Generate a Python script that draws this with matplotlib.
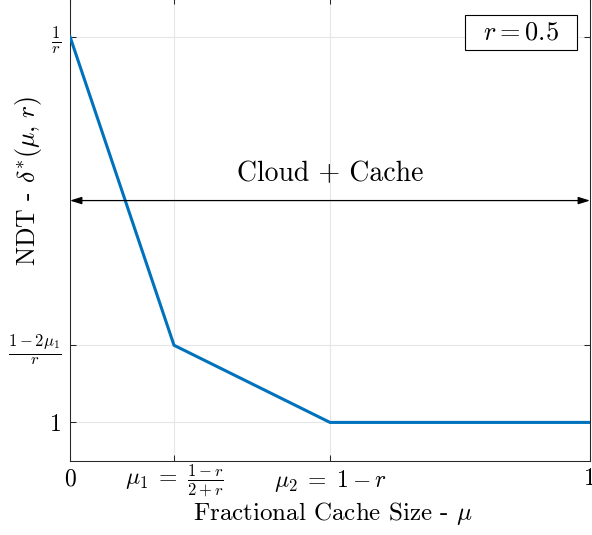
import matplotlib
matplotlib.use("Agg")
import matplotlib.pyplot as plt
from matplotlib.patches import Rectangle
from matplotlib.transforms import ScaledTranslation

plt.rcParams['font.family'] = 'serif'
plt.rcParams['font.serif'] = ['cmr10']
plt.rcParams['mathtext.fontset'] = 'cm'
plt.rcParams['axes.formatter.use_mathtext'] = True

# data (r = 0.5 -> mu1 = 0.2, mu2 = 0.5)
mu = [0, 0.2, 0.5, 1]
ndt = [2, 1.2, 1, 1]
xticks = [0, 0.2, 0.5, 1]
xlabels = ['0', r'$\mu_1 \;=\; \frac{1-r}{2+r}$', r'$\mu_2 \;=\; 1 - r$', '1']
yticks = [1, 1.2, 2]
ylabels = ['1', r'$\frac{1-2\mu_1}{r}$', r'$\frac{1}{r}$']
arrow_y = 1.575

fig = plt.figure(figsize=(5.92, 5.35), dpi=100)
ax = fig.add_axes([70/592, 74/535, 520/592, 463/535])

ax.plot(mu, ndt, color='#0072BD', lw=2.2, solid_joinstyle='miter', zorder=3)

ax.set_xlim(0, 1)
ax.set_ylim(0.9, 2.1)
ax.set_xticks(xticks)
ax.set_xticklabels(xlabels, fontsize=17)
ax.set_yticks(yticks)
ax.set_yticklabels(ylabels, fontsize=17)
ax.tick_params(direction='in', length=4, width=0.75, color='#262626',
               top=True, right=True, pad=6)
ax.tick_params(axis='x', pad=5)
# fraction label sits a bit higher, like the latex one
lab = ax.get_xticklabels()[1]
lab.set_transform(lab.get_transform() + ScaledTranslation(0, 4/72, fig.dpi_scale_trans))
ax.grid(True, color='#e6e6e6', lw=0.8)
ax.set_axisbelow(True)
for s in ax.spines.values():
    s.set_color('#262626')
    s.set_linewidth(0.75)

# double arrow across whole range
ax.annotate('', xy=(1, arrow_y), xytext=(0, arrow_y),
            arrowprops=dict(arrowstyle='<|-|>,head_length=0.7,head_width=0.22',
                            color='black', lw=0.9, shrinkA=0, shrinkB=0))
ax.text(0.5, 1.644, 'Cloud + Cache', fontsize=20, ha='center', va='center')

# r = 0.5 box (legend-like)
ax.add_patch(Rectangle((0.7596, 0.8877), 0.2154, 0.0756, transform=ax.transAxes,
                       fc='white', ec='black', lw=0.8, zorder=4))
ax.text(0.867, 0.9255, r'$r = 0.5$', fontsize=19, ha='center', va='center',
        transform=ax.transAxes, zorder=5)

ax.set_xlabel(r'Fractional Cache Size - $\mu$', fontsize=18)
ax.xaxis.set_label_coords(0.505, -0.085)
ax.set_ylabel(r'NDT - $\delta^{*}(\mu,\,r)$', fontsize=18.5)
ax.yaxis.set_label_coords(-0.05, 0.605)

fig.savefig('out.png', dpi=100)
